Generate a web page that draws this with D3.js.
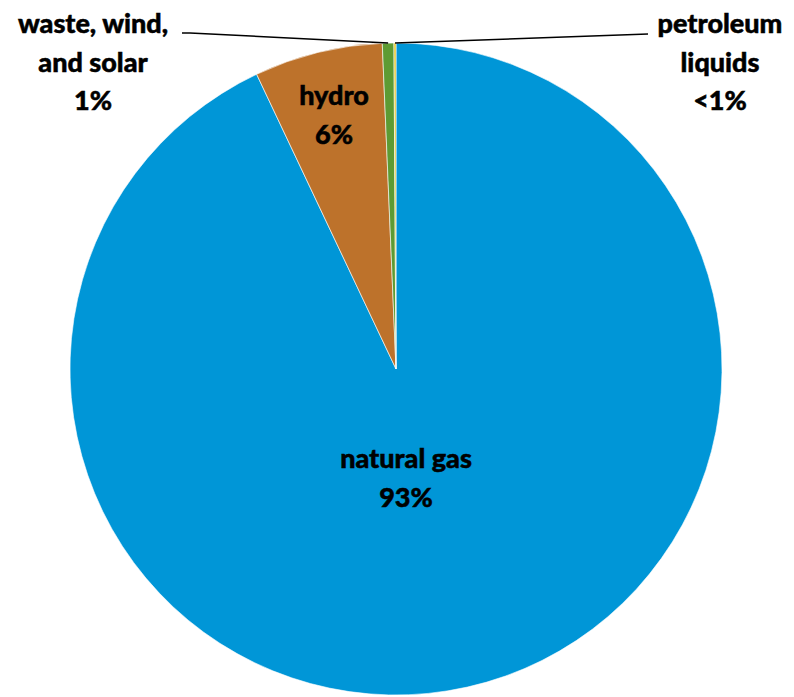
<!DOCTYPE html>
<html>
<head>
<meta charset="utf-8">
<script src="https://cdn.jsdelivr.net/npm/d3@7"></script>
<style>
  body { margin: 0; background: #fff; }
  text { font-family: Lato, "Liberation Sans", sans-serif; font-weight: 900; fill: #000; stroke: #000; stroke-width: 0.5px; }
</style>
</head>
<body>
<div id="chart"></div>
<script>
// The data (share of generation, percent)
var categories = ['natural gas', 'hydro', 'waste, wind, and solar', 'petroleum liquids'];
var values = [92.97, 6.36, 0.57, 0.10];
var pctLabels = ['93%', '6%', '1%', '<1%'];
var colors = ['#0096D7', '#BD722B', '#5D9B33', '#E3C21C'];

// Chart dimensions
var width = 794,
    height = 697,
    cx = 396,
    cy = 369,
    radius = 326;

var svg = d3.select('#chart').append('svg')
    .attr('width', width)
    .attr('height', height);

var g = svg.append('g')
    .attr('transform', 'translate(' + cx + ',' + cy + ')');

var pie = d3.pie()
    .sort(null)
    .value(function(d) { return d; });

var arc = d3.arc()
    .innerRadius(0)
    .outerRadius(radius);

var arcs = pie(values);

// Slices
g.selectAll('path.slice')
    .data(arcs)
    .enter()
  .append('path')
    .attr('class', 'slice')
    .attr('d', arc)
    .style('fill', function(d, i) { return colors[i]; })
    .style('stroke', '#fff')
    .style('stroke-width', 0.6);

// Label layout: lines of text and where they sit (relative to center)
var labelLines = [
  ['natural gas', pctLabels[0]],
  ['hydro', pctLabels[1]],
  ['waste, wind,', 'and solar', pctLabels[2]],
  ['petroleum', 'liquids', pctLabels[3]]
];
var labelPos = [
  { x: 10, y: 99 },
  { x: -62, y: -264 },
  { x: -303, y: -336 },
  { x: 324, y: -336 }
];
var lineGap = 38.5;
var fontSize = 27;

labelLines.forEach(function(lines, i) {
  var t = g.append('text')
      .attr('text-anchor', 'middle')
      .style('font-size', fontSize + 'px');
  lines.forEach(function(s, j) {
    t.append('tspan')
        .attr('x', labelPos[i].x)
        .attr('y', labelPos[i].y + j * lineGap)
        .text(s);
  });
});

// Leader lines for the two thin slices
var leaderEnds = [
  null,
  null,
  [{ x: -206, y: -336 }, { x: -214, y: -336 }],
  [{ x: 252, y: -335 }]
];

arcs.forEach(function(d, i) {
  if (!leaderEnds[i]) return;
  var mid = (d.startAngle + d.endAngle) / 2;
  var start = [radius * Math.sin(mid), -radius * Math.cos(mid)];
  var pts = [start].concat(leaderEnds[i].map(function(p) { return [p.x, p.y]; }));
  g.append('path')
      .attr('d', d3.line()(pts))
      .style('fill', 'none')
      .style('stroke', '#000')
      .style('stroke-width', 1.5);
});
</script>
</body>
</html>
